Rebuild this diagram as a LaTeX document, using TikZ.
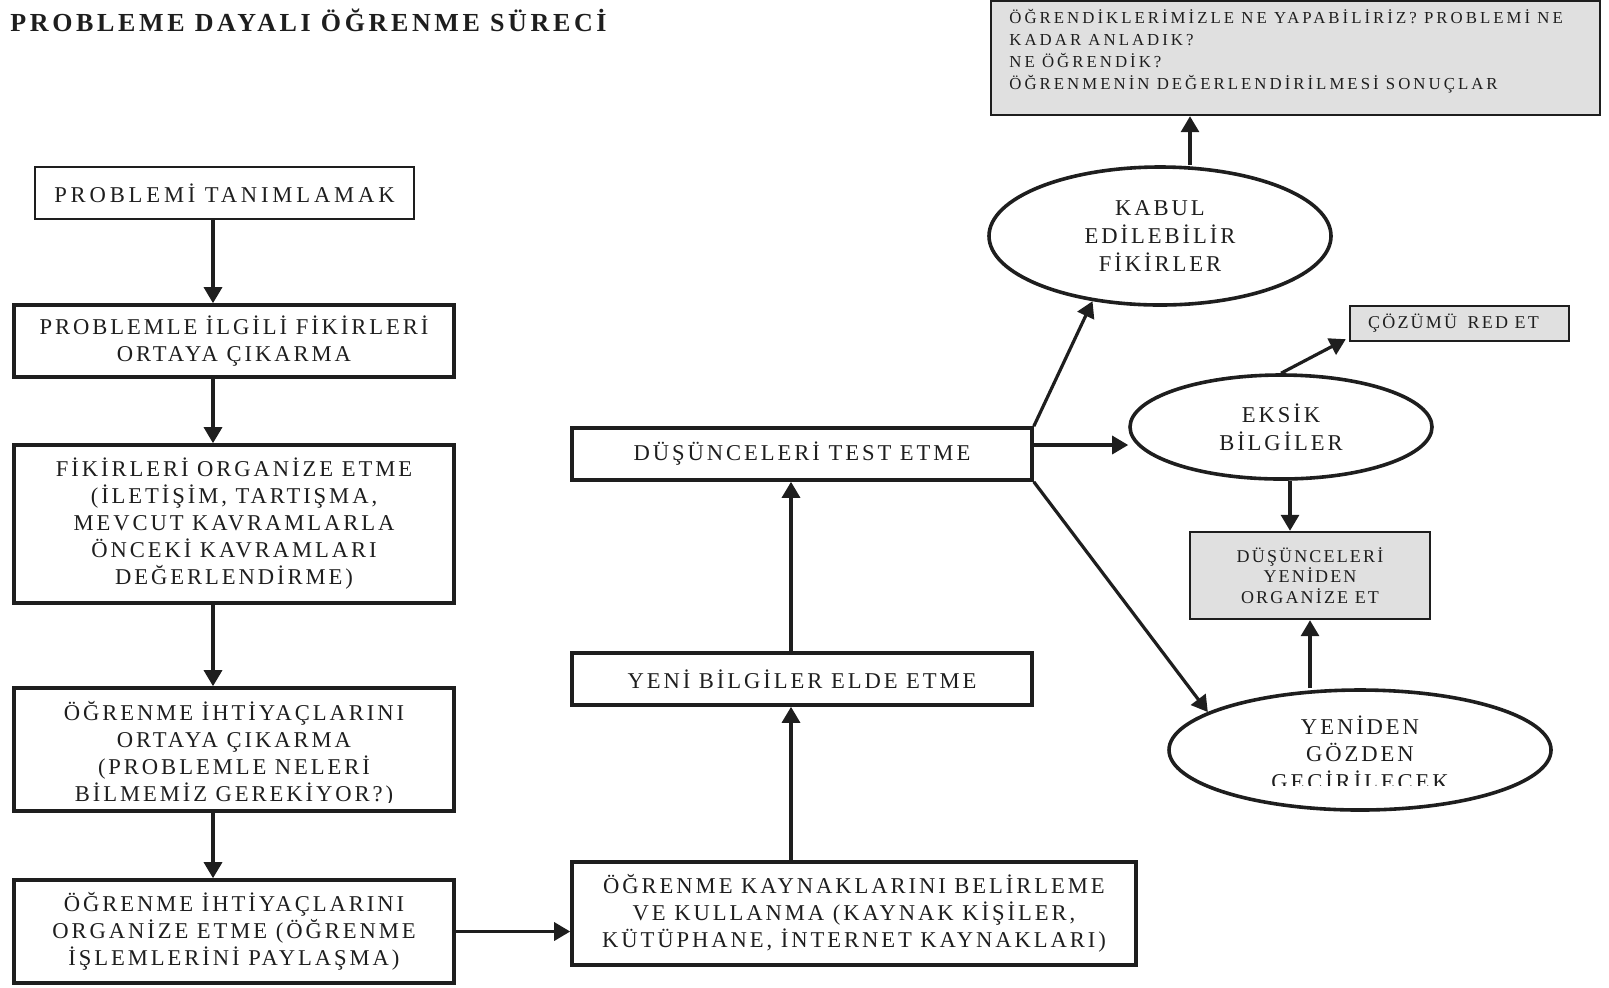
\documentclass[tikz,border=0pt]{standalone}
\usepackage{fontspec}
\setmainfont{Liberation Serif}
\newfontfamily\spfont[LetterSpace=13]{Liberation Serif}
\newfontfamily\spone[LetterSpace=17]{Liberation Serif}
\newfontfamily\spsmall[LetterSpace=18]{Liberation Serif}
\newfontfamily\spgray[LetterSpace=12]{Liberation Serif}
\newfontfamily\sptitle[LetterSpace=14]{Liberation Serif}
\usetikzlibrary{arrows.meta,calc,shapes.geometric}
\definecolor{ink}{HTML}{1E1E1E}
\definecolor{boxgray}{HTML}{E0E0E0}
\begin{document}
\begin{tikzpicture}[x=0.5pt,y=-0.5pt,
  bigtext/.style={font=\spfont\fontsize{11.3pt}{13.5pt}\selectfont, text=ink},
  ovaltext/.style={font=\spfont\fontsize{11.3pt}{13.8pt}\selectfont, text=ink},
  smalltext/.style={font=\spsmall\fontsize{8.4pt}{10.9pt}\selectfont, text=ink},
  graytext/.style={font=\spgray\fontsize{9pt}{10.4pt}\selectfont, text=ink},
  box/.style={draw=ink, line width=1.8pt, rectangle, inner sep=0pt, align=center, bigtext},
  thinbox/.style={box, line width=1.1pt, font=\spone\fontsize{11.3pt}{13.5pt}\selectfont},
  graybox/.style={draw=ink, line width=1.2pt, fill=boxgray, rectangle, inner sep=0pt, align=center, graytext},
  oval/.style={draw=ink, line width=1.8pt, ellipse, inner sep=0pt, align=center, ovaltext},
  arr/.style={draw=ink, line width=1.6pt, -{Triangle[length=8pt,width=9pt]}},
]
\useasboundingbox (0,0) rectangle (1609,987);

\node[anchor=base west, inner sep=0pt, font=\sptitle\bfseries\fontsize{13pt}{15pt}\selectfont, text=ink] (title) at (10,31) {PROBLEME DAYALI ÖĞRENME SÜRECİ};

% left column
\node[thinbox, minimum width=189.5pt, minimum height=26pt] (b1) at (224.5,193) {PROBLEMİ TANIMLAMAK};
\node[box, minimum width=220pt, minimum height=36pt] (b2) at (234,341) {PROBLEMLE İLGİLİ FİKİRLERİ\\ORTAYA ÇIKARMA};
\node[box, minimum width=220pt, minimum height=79pt] (b3) at (234,524) {FİKİRLERİ ORGANİZE ETME\\(İLETİŞİM, TARTIŞMA,\\MEVCUT KAVRAMLARLA\\ÖNCEKİ KAVRAMLARI\\DEĞERLENDİRME)};
\begin{scope}
  \clip (14,688) rectangle (454,802);
  \node[bigtext, align=center, inner sep=0pt] (b4t) at (234,753.5) {ÖĞRENME İHTİYAÇLARINI\\ORTAYA ÇIKARMA\\(PROBLEMLE NELERİ\\BİLMEMİZ GEREKİYOR?)};
\end{scope}
\node[box, minimum width=220pt, minimum height=61.5pt] (b4) at (234,749.5) {};
\node[box, minimum width=220pt, minimum height=51.5pt] (b5) at (234,931.5) {ÖĞRENME İHTİYAÇLARINI\\ORGANİZE ETME (ÖĞRENME\\İŞLEMLERİNİ PAYLAŞMA)};

% middle column
\node[box, minimum width=282pt, minimum height=51.5pt] (b6) at (854,913.5) {ÖĞRENME KAYNAKLARINI BELİRLEME\\VE KULLANMA (KAYNAK KİŞİLER,\\KÜTÜPHANE, İNTERNET KAYNAKLARI)};
\node[box, minimum width=230pt, minimum height=26pt] (b7) at (802,679) {YENİ BİLGİLER ELDE ETME};
\node[box, minimum width=230pt, minimum height=26pt] (b8) at (802,454) {DÜŞÜNCELERİ TEST ETME};

% right part
\node[graybox, minimum width=304.5pt, minimum height=57pt] (top) at (1295.5,58) {};
\node[smalltext, align=left, anchor=north west, inner sep=0pt] (toptext) at (1009,9) {ÖĞRENDİKLERİMİZLE NE YAPABİLİRİZ? PROBLEMİ NE\\KADAR ANLADIK?\\NE ÖĞRENDİK?\\ÖĞRENMENİN DEĞERLENDİRİLMESİ SONUÇLAR};
\node[oval, minimum width=171pt, minimum height=69pt] (kabul) at (1160,236) {KABUL\\EDİLEBİLİR\\FİKİRLER};
\node[graybox, minimum width=109.5pt, minimum height=17.5pt] (cozum) at (1459.5,323.5) {ÇÖZÜMÜ\hspace{2pt} RED ET\hspace*{6pt}};
\node[oval, minimum width=151pt, minimum height=52pt] (eksik) at (1281,427) {EKSİK\\BİLGİLER};
\node[graybox, minimum width=120pt, minimum height=43.5pt] (duzen) at (1310,575.5) {DÜŞÜNCELERİ\\YENİDEN\\ORGANİZE ET};
\begin{scope}
  \clip (1170,690) rectangle (1550,785);
  \node[ovaltext, align=center, inner sep=0pt] (ydt) at (1360,755) {YENİDEN\\GÖZDEN\\GEÇİRİLECEK};
\end{scope}
\node[oval, minimum width=191pt, minimum height=60pt] (yeniden) at (1360,750) {};

% connectors
\coordinate (lx) at (213,0);
\draw[arr] (b1.south -| lx) -- (b2.north -| lx);
\draw[arr] (b2.south -| lx) -- (b3.north -| lx);
\draw[arr] (b3.south -| lx) -- (b4.north -| lx);
\draw[arr] (b4.south -| lx) -- (b5.north -| lx);
\draw[arr] (b5.east) -- (b6.west |- b5.east);
\coordinate (mx) at (791,0);
\draw[arr] (b6.north -| mx) -- (b7.south -| mx);
\draw[arr] (b7.north -| mx) -- (b8.south -| mx);
\draw[arr] (b8.north east) -- (kabul.224);
\coordinate (ey) at (0,445);
\draw[arr] (b8.east |- ey) -- (eksik.west |- ey);
\draw[arr] (b8.south east) -- (yeniden.166);
\coordinate (kx) at (1190,0);
\draw[arr] (kabul.north -| kx) -- (top.south -| kx);
\draw[arr] (eksik.north) -- ($(cozum.south west)+(-3,-3)$);
\coordinate (ex) at (1290,0);
\draw[arr] (eksik.south -| ex) -- (duzen.north -| ex);
\draw[arr] (yeniden.north -| duzen.south) -- (duzen.south);
\end{tikzpicture}
\end{document}
